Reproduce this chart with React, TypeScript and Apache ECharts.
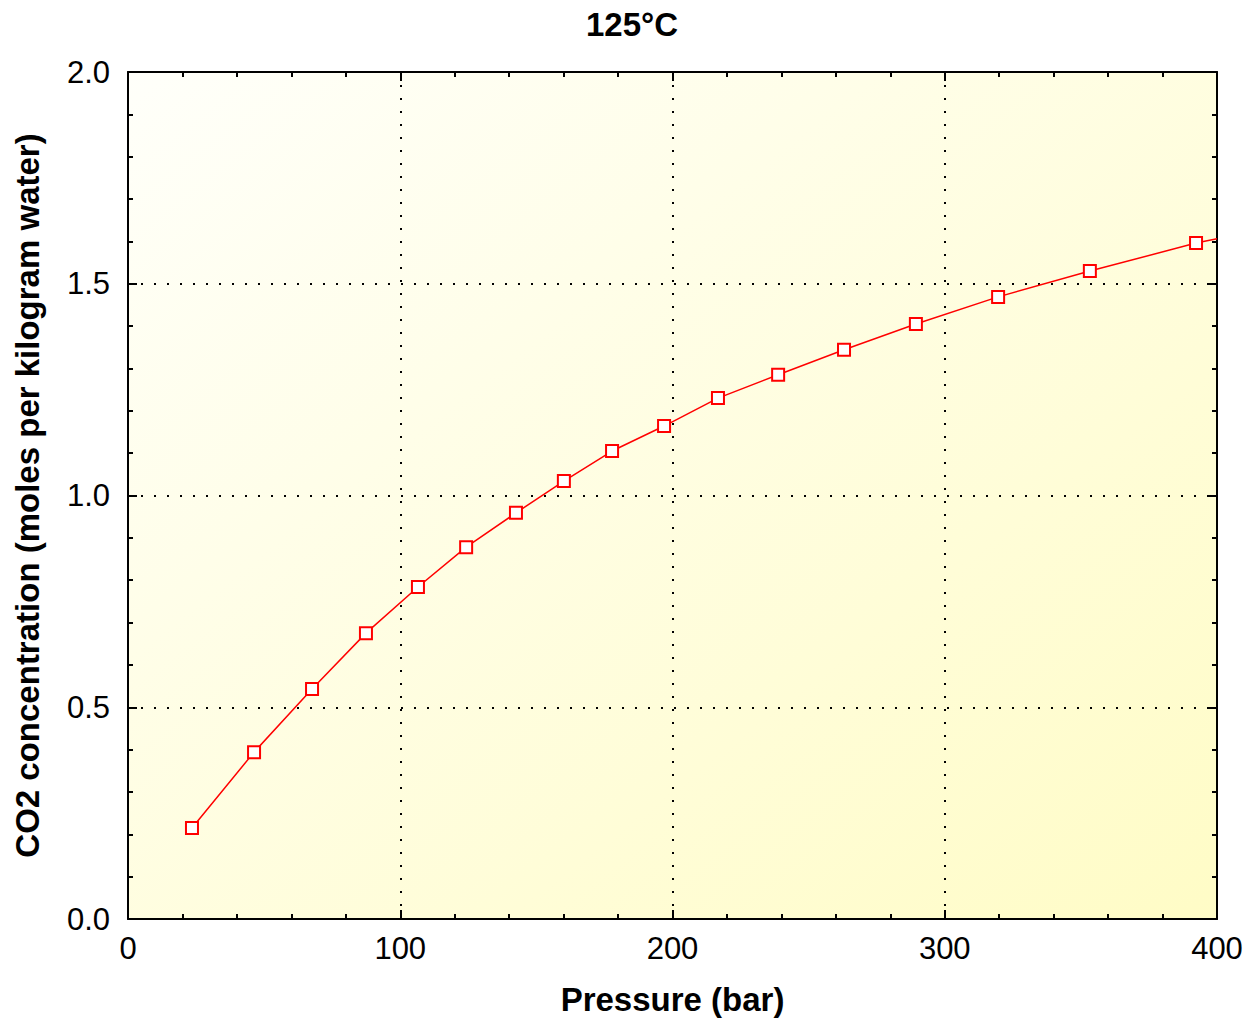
import React, { useEffect, useRef } from "react";
import * as echarts from "echarts";

const titleText = "125°C";
const xAxisName = "Pressure (bar)";
const yAxisName = "CO2 concentration (moles per kilogram water)";

const pressure = [23.5, 46.3, 67.6, 87.4, 106.5, 124.2, 142.5, 160.1, 177.8, 196.9, 216.7, 238.8, 263.0, 289.4, 319.6, 353.3, 392.3];
const concentration = [0.215, 0.394, 0.543, 0.675, 0.784, 0.878, 0.959, 1.034, 1.105, 1.164, 1.230, 1.285, 1.344, 1.405, 1.469, 1.530, 1.596];
// line continues to the plot edge beyond the last marker
const edgePoint = [400, 1.606];

const xMin = 0, xMax = 400, xInterval = 100;
const yMin = 0, yMax = 2, yInterval = 0.5;

export default function App() {
  const ref = useRef<HTMLDivElement>(null);
  useEffect(() => {
    if (!ref.current) return;
    const chart = echarts.init(ref.current, null, { renderer: "svg" });
    const data: any[] = pressure.map((p, i) => [p, concentration[i]]);
    data.push({ value: edgePoint, symbol: "none" });

    const font = "Liberation Sans, Arial, sans-serif";
    const tickCommon = {
      axisLine: { show: true, onZero: false, lineStyle: { color: "#000", width: 2 } },
      axisTick: { show: true, inside: true, length: 9, lineStyle: { color: "#000", width: 2 } },
      minorTick: { show: true, splitNumber: 5, length: 5, lineStyle: { color: "#000", width: 2 } },
    };
    const gridDots = { show: true, lineStyle: { color: "#000", type: [2, 11], width: 2 } };

    chart.setOption({
      animation: false,
      backgroundColor: "#ffffff",
      title: {
        text: titleText,
        left: 581,
        top: 3,
        textStyle: { fontFamily: font, fontSize: 33, fontWeight: "bold", color: "#000" },
      },
      grid: {
        left: 128,
        top: 72,
        right: 26,
        bottom: 99,
        outerBoundsMode: "none",
        containLabel: false,
        show: true,
        borderWidth: 0,
        backgroundColor: new echarts.graphic.LinearGradient(0, 0, 1, 1, [
          { offset: 0, color: "#fffffa" },
          { offset: 1, color: "#fffcc6" },
        ]),
      },
      xAxis: [
        {
          type: "value",
          min: xMin,
          max: xMax,
          interval: xInterval,
          position: "bottom",
          name: xAxisName,
          nameLocation: "middle",
          nameGap: 64,
          nameTextStyle: { fontFamily: font, fontSize: 33, fontWeight: "bold", color: "#000" },
          axisLabel: { fontFamily: font, fontSize: 31, color: "#000", margin: 14 },
          splitLine: gridDots,
          ...tickCommon,
        },
        {
          type: "value",
          min: xMin,
          max: xMax,
          interval: xInterval,
          position: "top",
          axisLabel: { show: false },
          splitLine: { show: false },
          ...tickCommon,
        },
      ],
      yAxis: [
        {
          type: "value",
          min: yMin,
          max: yMax,
          interval: yInterval,
          position: "left",
          name: yAxisName,
          nameLocation: "middle",
          nameGap: 84,
          nameTextStyle: { fontFamily: font, fontSize: 33, fontWeight: "bold", color: "#000" },
          axisLabel: {
            fontFamily: font,
            fontSize: 31,
            color: "#000",
            margin: 18,
            formatter: (v: number) => v.toFixed(1),
          },
          splitLine: gridDots,
          ...tickCommon,
        },
        {
          type: "value",
          min: yMin,
          max: yMax,
          interval: yInterval,
          position: "right",
          axisLabel: { show: false },
          splitLine: { show: false },
          ...tickCommon,
        },
      ],
      series: [
        {
          type: "line",
          data,
          xAxisIndex: 0,
          yAxisIndex: 0,
          symbol: "rect",
          symbolSize: 12,
          showAllSymbol: true,
          lineStyle: { color: "#ff0000", width: 1.5 },
          itemStyle: { color: "#ffffff", borderColor: "#ff0000", borderWidth: 2 },
          clip: true,
          z: 5,
        },
      ],
    });
    return () => chart.dispose();
  }, []);
  return (
    <div
      ref={ref}
      style={{ position: "fixed", left: 0, top: 0, width: 1243, height: 1018 }}
    />
  );
}
